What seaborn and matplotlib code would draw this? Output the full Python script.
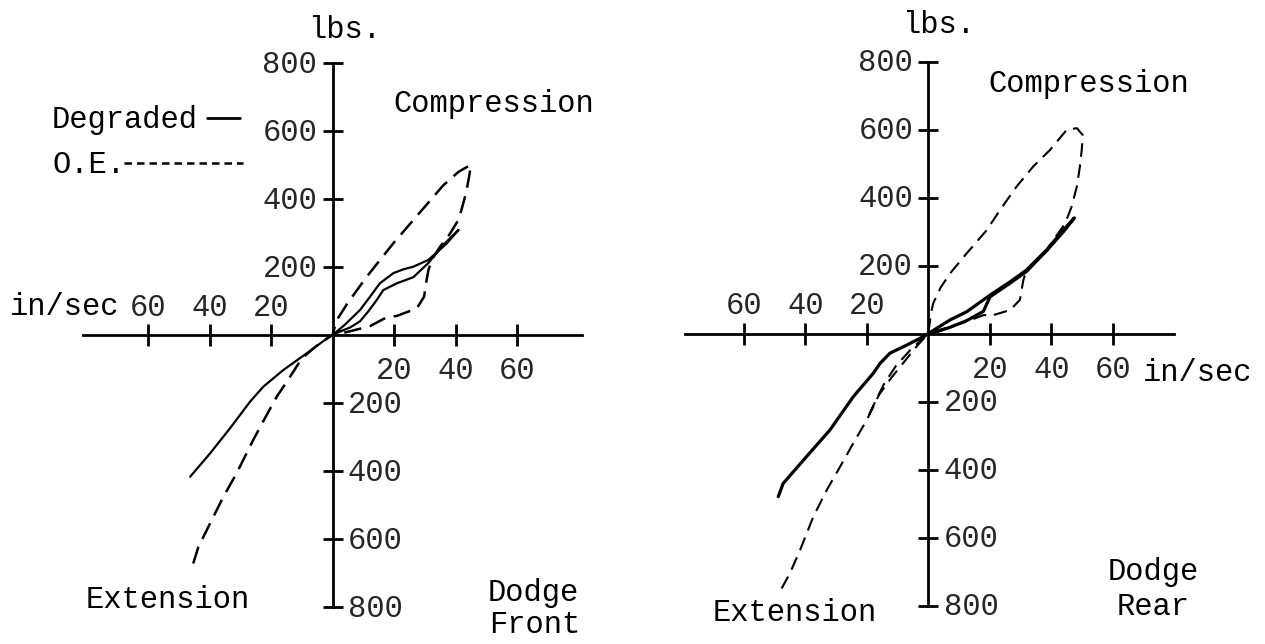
import matplotlib
matplotlib.use("Agg")
import matplotlib.pyplot as plt
from matplotlib.lines import Line2D
import seaborn as sns

# ---------------- data (velocity in/sec, force lbs) ----------------
# Dodge Front, Degraded (solid): extension branch then compression loop
front_deg_x = [-46.3, -39.8, -33.3, -26.8, -22.5, -16.0, -8.4, -3.0, 0.0,
               4.0, 9.0, 12.0, 15.4, 19.8, 23.0, 26.3, 31.2, 37.0, 41.0,
               36.0, 31.2, 26.3, 20.9, 16.5, 14.4, 11.6, 8.9, 5.7, 2.4, 0.0]
front_deg_y = [-417, -348, -274, -196, -152, -103, -54, -18, 0,
               30, 74, 110, 152, 182, 193, 201, 221, 268, 309,
               265, 212, 170, 152, 132, 103, 69, 40, 22, 10, 0]
# Dodge Front, O.E. (dashed)
front_oe_x = [-45.3, -43.6, -39.8, -35.5, -31.2, -25.8, -22.0, -18.1, -13.8, -10.0, -6.0, -3.0, 0.0,
              1.4, 5.0, 11.1, 19.8, 30.0, 36.0, 41.0, 43.5, 45.0,
              44.5, 43.5, 42.0, 40.9, 38.0, 35.0, 32.5, 31.2, 30.6, 29.8, 27.4, 24.1, 20.9, 17.6, 12.2, 7.0, 3.0, 0.0]
front_oe_y = [-672, -623, -554, -476, -407, -309, -245, -181, -123, -69, -38, -17, 0,
              44, 95, 171, 270, 377, 440, 480, 493, 500,
              470, 420, 370, 338, 295, 260, 225, 191, 162, 113, 78, 67, 56, 52, 26, 14, 5, 0]

# Dodge Rear, Degraded (solid)
rear_deg_x = [-48.8, -47.2, -39.6, -32.0, -24.4, -17.9, -15.7, -12.5, -7.0, -2.7, 0.0,
              7.1, 12.5, 20.1, 26.6, 32.0, 38.5, 43.9, 47.5,
              44.0, 38.5, 32.0, 26.6, 20.1, 17.9, 12.5, 7.0, 3.0, 0.0]
rear_deg_y = [-480, -441, -362, -284, -186, -117, -88, -58, -34, -14, 0,
              40, 64, 113, 152, 187, 246, 304, 340,
              300, 244, 183, 148, 108, 65, 38, 18, 6, 0]
# Dodge Rear, O.E. (dashed)
rear_oe_x = [-47.7, -45.0, -41.7, -37.4, -33.0, -28.7, -24.4, -20.0, -16.0, -12.0, -8.0, -4.0, 0.0,
             0.6, 1.1, 1.6, 4.0, 7.1, 12.5, 19.0, 23.3, 28.7, 34.1, 39.6, 45.0, 48.3, 50.2,
             49.9, 49.3, 48.3, 46.6, 44.5, 41.5, 38.5, 35.0, 32.0, 30.9, 29.8, 26.6, 21.1, 17.9, 12.5, 7.1, 1.6, 0.0,
             -2.5, -6.0, -10.5, -14.5, -17.5, -20.0]
rear_oe_y = [-750, -705, -637, -539, -460, -392, -323, -254, -180, -130, -85, -40, 0,
             40, 69, 89, 135, 177, 236, 304, 363, 432, 491, 540, 599, 604, 584,
             540, 491, 432, 373, 324, 285, 246, 215, 187, 157, 99, 69, 54, 54, 35, 20, 5, 0,
             -20, -50, -95, -150, -205, -254]

x_ticks = [-60, -40, -20, 20, 40, 60]
y_ticks = [800, 600, 400, 200, -200, -400, -600, -800]

# ---------------- figure ----------------
sns.set_theme(style="white")
plt.rcParams['font.family'] = ['Liberation Mono', 'DejaVu Sans']
W, H = 1265, 644
FS = 22
fig = plt.figure(figsize=(W / 100, H / 100), dpi=100)
fig.patch.set_facecolor("white")

XL, YL = 85, 850
PX, PY = 3.075, 0.34


def make_axes(ox, oy):
    w = 2 * XL * PX
    h = 2 * YL * PY
    left = ox - XL * PX
    top = oy - YL * PY
    ax = fig.add_axes([left / W, 1 - (top + h) / H, w / W, h / H])
    ax.set_xlim(-XL, XL)
    ax.set_ylim(-YL, YL)
    ax.set_facecolor("none")
    return ax


def style_axes(ax, xb):
    for s in ("top", "right"):
        ax.spines[s].set_visible(False)
    ax.spines["left"].set_position(("data", 0))
    ax.spines["bottom"].set_position(("data", 0))
    ax.spines["left"].set_bounds(-800, 800)
    ax.spines["bottom"].set_bounds(xb[0], xb[1])
    for s in ("left", "bottom"):
        ax.spines[s].set_linewidth(2.0)
        ax.spines[s].set_color("black")
    ax.set_xticks(x_ticks)
    ax.set_yticks(y_ticks)
    ax.tick_params(axis="x", direction="inout", length=16, width=2.0, color="black",
                   labelbottom=False, bottom=True)
    ax.tick_params(axis="y", direction="inout", length=14, width=2.0, color="black",
                   labelleft=False, left=True)
    ax.set_xlabel("")
    ax.set_ylabel("")
    for v in x_ticks:
        if v < 0:
            ax.annotate(str(abs(v)), xy=(v, 0), xytext=(0, 14), textcoords="offset points",
                        ha="center", va="baseline", fontsize=FS)
        else:
            ax.annotate(str(abs(v)), xy=(v, 0), xytext=(0, -32), textcoords="offset points",
                        ha="center", va="baseline", fontsize=FS)
    for v in y_ticks:
        if v > 0:
            ax.annotate(str(abs(v)), xy=(0, v), xytext=(-11, -7), textcoords="offset points",
                        ha="right", va="baseline", fontsize=FS)
        else:
            ax.annotate(str(abs(v)), xy=(0, v), xytext=(11, -7), textcoords="offset points",
                        ha="left", va="baseline", fontsize=FS)


def T(px, py, s, ha="left"):
    fig.text(px / W, 1 - py / H, s, ha=ha, va="baseline", fontsize=FS, color="black")


# ---- left panel: Dodge Front ----
axL = make_axes(332.5, 335)
sns.lineplot(x=front_deg_x, y=front_deg_y, sort=False, estimator=None, ax=axL,
             color="black", lw=1.6, legend=False)
sns.lineplot(x=front_oe_x, y=front_oe_y, sort=False, estimator=None, ax=axL,
             color="black", lw=1.8, linestyle=(0, (7, 3.5)), legend=False)
style_axes(axL, (-81, 81))

# ---- right panel: Dodge Rear ----
axR = make_axes(928.3, 333.5)
sns.lineplot(x=rear_deg_x, y=rear_deg_y, sort=False, estimator=None, ax=axR,
             color="black", lw=2.3, legend=False)
sns.lineplot(x=rear_oe_x, y=rear_oe_y, sort=False, estimator=None, ax=axR,
             color="black", lw=1.5, linestyle=(0, (6.5, 3.7)), legend=False)
style_axes(axR, (-79, 80))

# ---- annotations ----
T(308, 38, "lbs.")
T(902, 33, "lbs.")
T(393, 112, "Compression")
T(988, 92, "Compression")
T(10, 315, "in/sec")
T(1143, 381, "in/sec")
T(86, 608, "Extension")
T(713, 621, "Extension")
T(533, 601, "Dodge", ha="center")
T(535, 633, "Front", ha="center")
T(1153, 580, "Dodge", ha="center")
T(1153, 615, "Rear", ha="center")

# legend
T(52, 128, "Degraded")
T(52, 173, "O.E.")
fig.add_artist(Line2D([207 / W, 240 / W], [1 - 118 / H, 1 - 118 / H],
                      transform=fig.transFigure, color="black", lw=2.0))
fig.add_artist(Line2D([124 / W, 243 / W], [1 - 163 / H, 1 - 163 / H],
                      transform=fig.transFigure, color="black", lw=1.8,
                      linestyle=(0, (3, 2))))

fig.savefig("out.png", dpi=100, facecolor="white")
